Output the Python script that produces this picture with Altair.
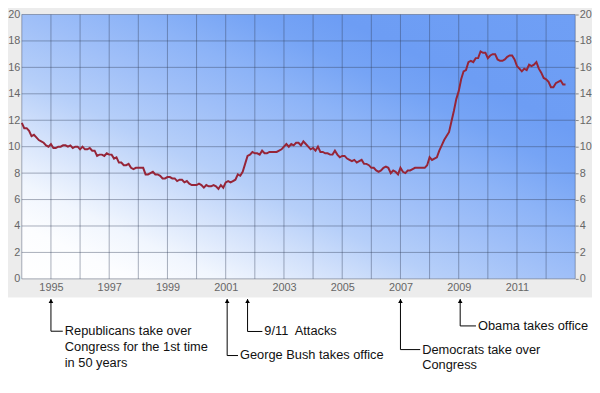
import altair as alt
import pandas as pd

# ---- data (monthly rate, %) ----
years = list(range(1994, 2013))
r1994 = [11.8, 11.4, 11.4, 11.2, 10.8, 10.9, 10.7, 10.5, 10.4, 10.3, 10.1, 10.0]
r1995 = [10.2, 9.9, 9.9, 10.0, 10.0, 10.1, 10.1, 10.0, 10.1, 9.9, 10.0, 10.0]
r1996 = [9.8, 10.0, 9.8, 9.8, 9.9, 9.7, 9.7, 9.3, 9.4, 9.4, 9.3, 9.5]
r1997 = [9.4, 9.4, 9.1, 9.2, 8.8, 8.8, 8.6, 8.6, 8.7, 8.4, 8.3, 8.4]
r1998 = [8.4, 8.4, 8.4, 7.9, 7.9, 8.0, 8.1, 7.9, 7.9, 7.8, 7.6, 7.6]
r1999 = [7.7, 7.7, 7.6, 7.6, 7.4, 7.5, 7.5, 7.3, 7.4, 7.2, 7.1, 7.1]
r2000 = [7.1, 7.2, 7.1, 6.9, 7.1, 7.0, 7.0, 7.1, 7.0, 6.8, 7.1, 6.9]
r2001 = [7.3, 7.4, 7.3, 7.4, 7.5, 7.9, 7.8, 8.1, 8.7, 9.3, 9.4, 9.6]
r2002 = [9.5, 9.5, 9.4, 9.7, 9.5, 9.5, 9.6, 9.6, 9.6, 9.6, 9.7, 9.8]
r2003 = [10.0, 10.2, 10.0, 10.2, 10.1, 10.3, 10.3, 10.1, 10.4, 10.2, 10.0, 9.8]
r2004 = [9.9, 9.7, 10.0, 9.6, 9.6, 9.5, 9.5, 9.4, 9.4, 9.7, 9.4, 9.2]
r2005 = [9.3, 9.3, 9.1, 9.0, 8.9, 9.0, 8.8, 8.9, 9.0, 8.7, 8.7, 8.6]
r2006 = [8.4, 8.4, 8.2, 8.1, 8.2, 8.4, 8.5, 8.4, 8.0, 8.2, 8.1, 7.9]
r2007 = [8.4, 8.1, 8.0, 8.2, 8.2, 8.3, 8.4, 8.4, 8.4, 8.4, 8.4, 8.6]
r2008 = [9.2, 9.0, 9.1, 9.2, 9.7, 10.1, 10.5, 10.8, 11.1, 11.9, 12.7, 13.6]
r2009 = [14.2, 15.1, 15.7, 15.8, 16.4, 16.5, 16.4, 16.7, 16.7, 17.2, 17.1, 17.1]
r2010 = [16.7, 16.9, 17.0, 17.0, 16.6, 16.5, 16.5, 16.6, 16.8, 16.9, 16.9, 16.6]
r2011 = [16.1, 15.9, 15.7, 15.9, 15.8, 16.2, 16.1, 16.2, 16.4, 15.9, 15.6, 15.2]
r2012 = [15.1, 14.9, 14.5, 14.5, 14.8, 14.9, 15.0, 14.7, 14.7]
series = [r1994, r1995, r1996, r1997, r1998, r1999, r2000, r2001, r2002, r2003,
          r2004, r2005, r2006, r2007, r2008, r2009, r2010, r2011, r2012]

x_labels = list(range(1995, 2013, 2))
x_grid = list(range(1994, 2014))
y_ticks = list(range(0, 21, 2))

event_x = [1995.0, 2001.05, 2001.75, 2007.0, 2009.05]
event_text = ["Republicans take over\nCongress for the 1st time\nin 50 years",
              "George Bush takes office",
              "9/11\u00a0 Attacks",
              "Democrats take over\nCongress",
              "Obama takes office"]
event_level = [-3.96, -5.8, -3.98, -5.35, -3.56]
arrow_tip = -1.53
hook_px = [12, 11, 15, 20, 16]

# ---- build ----
rows = []
for y, vals in zip(years, series):
    for m, v in enumerate(vals):
        rows.append({"yr": y + m / 12.0, "val": v})
df = pd.DataFrame(rows)

W, H = 561, 268
FONT = "Liberation Sans"
xscale = alt.Scale(domain=[1994, 2013], nice=False, zero=False)
yscale = alt.Scale(domain=[0, 20], nice=False, zero=False)
xaxis = alt.Axis(values=x_labels, format="d", title=None, ticks=False, domain=False,
                 grid=False, labelFontSize=11, labelColor="#666666", labelPadding=3,
                 labelFont=FONT)
left_axis = alt.Axis(values=y_ticks, orient="left", title=None, ticks=False, domain=False,
                     grid=False, labelFontSize=11, labelColor="#666666", labelPadding=2,
                     labelFont=FONT)
right_axis = alt.Axis(values=y_ticks, orient="right", title=None, ticks=True, tickSize=3,
                      tickColor="#888888", domain=False, grid=False, labelFontSize=11,
                      labelColor="#666666", labelPadding=1, labelFont=FONT)

one = pd.DataFrame({"a": [0]})

grad = alt.LinearGradient(
    gradient="linear", x1=0, y1=1, x2=1, y2=0,
    stops=[alt.GradientStop(color="#ffffff", offset=0.0),
           alt.GradientStop(color="#fcfdff", offset=0.1),
           alt.GradientStop(color="#f1f6fe", offset=0.18),
           alt.GradientStop(color="#d2e1fb", offset=0.29),
           alt.GradientStop(color="#b6cff9", offset=0.38),
           alt.GradientStop(color="#9fbff8", offset=0.5),
           alt.GradientStop(color="#8cb3f7", offset=0.6),
           alt.GradientStop(color="#76a4f5", offset=0.7),
           alt.GradientStop(color="#6d9df4", offset=0.78),
           alt.GradientStop(color="#6f9ff5", offset=1.0)])

bg = alt.Chart(one).mark_rect(fill=grad).encode(
    x=alt.value(0), x2=alt.value(W), y=alt.value(0), y2=alt.value(H))
white = alt.Chart(one).mark_rect(fill="white", clip=False).encode(
    x=alt.value(-40), x2=alt.value(W + 40), y=alt.value(H + 19), y2=alt.value(H + 300))

xgrid = alt.Chart(pd.DataFrame({"yr": x_grid})).mark_rule(
    color="#33405a", opacity=0.42, strokeWidth=1).encode(
    x=alt.X("yr:Q", scale=xscale, axis=xaxis))
ygrid = alt.Chart(pd.DataFrame({"val": y_ticks})).mark_rule(
    color="#33405a", opacity=0.42, strokeWidth=1).encode(
    y=alt.Y("val:Q", scale=yscale, axis=right_axis))

line = alt.Chart(df).mark_line(color="#962538", strokeWidth=2).encode(
    x=alt.X("yr:Q", scale=xscale, axis=xaxis),
    y=alt.Y("val:Q", scale=yscale, axis=left_axis))

layers = [bg, white, xgrid, ygrid, line]
for ex, txt, lvl, hk in zip(event_x, event_text, event_level, hook_px):
    d = pd.DataFrame({"yr": [ex], "tip": [arrow_tip], "lvl": [lvl], "lab": [txt]})
    base = alt.Chart(d)
    vrule = base.mark_rule(color="black", strokeWidth=1, clip=False).encode(
        x=alt.X("yr:Q", scale=xscale, axis=xaxis),
        y=alt.Y("tip:Q", scale=yscale, axis=None), y2="lvl:Q")
    hrule = base.mark_rule(color="black", strokeWidth=1, clip=False, x2Offset=hk).encode(
        x=alt.X("yr:Q", scale=xscale, axis=xaxis), x2="yr:Q",
        y=alt.Y("lvl:Q", scale=yscale, axis=None))
    arrow = base.mark_point(shape="triangle-up", filled=True, size=22, color="black",
                            opacity=1, clip=False, yOffset=2).encode(
        x=alt.X("yr:Q", scale=xscale, axis=xaxis),
        y=alt.Y("tip:Q", scale=yscale, axis=None))
    text = base.mark_text(align="left", baseline="middle", dx=hk + 2,
                          fontSize=13, lineHeight=16,
                          lineBreak="\n", color="#111111", font=FONT, clip=False).encode(
        x=alt.X("yr:Q", scale=xscale, axis=xaxis),
        y=alt.Y("lvl:Q", scale=yscale, axis=None),
        text="lab:N")
    layers += [vrule, hrule, arrow, text]

chart = alt.layer(*layers).resolve_axis(y="independent").properties(
    width=W, height=H,
    autosize=alt.AutoSizeParams(type="none"),
    padding={"left": 14, "right": 17, "top": 4, "bottom": 105},
    background="#ececec",
).configure_view(stroke=None)

chart.save("out.html", embed_options={"renderer": "svg", "actions": False})
